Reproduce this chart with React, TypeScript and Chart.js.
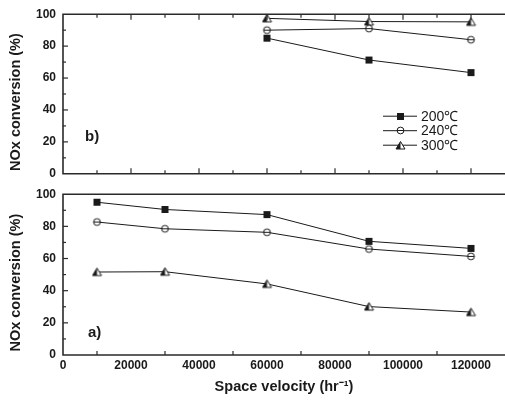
import React, { useEffect, useRef } from 'react';
import { Chart, registerables } from 'chart.js';

Chart.register(...registerables);

// ---- data ----
const seriesLabels = ['200℃', '240℃', '300℃'];
const xTop = [60000, 90000, 120000];
const top200 = [85, 71.3, 63.4];
const top240 = [90, 91, 84];
const top300 = [97.4, 95.4, 95.2];
const xBottom = [10000, 30000, 60000, 90000, 120000];
const bot200 = [95, 90.5, 87.3, 70.7, 66.3];
const bot240 = [82.7, 78.5, 76.3, 65.9, 61.3];
const bot300 = [51.6, 51.8, 44.2, 30.1, 26.7];
const yTickValues = [0, 20, 40, 60, 80, 100];
const xTickValues = [0, 20000, 40000, 60000, 80000, 100000, 120000];
const yMin = 0;
const yMax = 100;
const xMin = 0;
const xMax = 130000;
const yTitle = 'NOx conversion (%)';
const xTitle = 'Space velocity (hr⁻¹)';

const FONT = '"Liberation Sans", Arial, sans-serif';
const INK = '#1a1a1a';

type Kind = 'square' | 'circle' | 'triangle';

function makeMarker(kind: Kind): HTMLCanvasElement {
  const c = document.createElement('canvas');
  const s = 11;
  c.width = s;
  c.height = s;
  const g = c.getContext('2d')!;
  const m = s / 2;
  g.strokeStyle = INK;
  g.fillStyle = INK;
  g.lineWidth = 1;
  if (kind === 'square') {
    g.fillRect(m - 3.5, m - 3.5, 7, 7);
  } else if (kind === 'circle') {
    g.beginPath();
    g.arc(m, m, 3.4, 0, Math.PI * 2);
    g.fillStyle = '#fff';
    g.fill();
    g.stroke();
    g.beginPath();
    g.moveTo(m - 3.4, m);
    g.lineTo(m + 3.4, m);
    g.stroke();
  } else {
    g.beginPath();
    g.moveTo(m, m - 4);
    g.lineTo(m - 4.5, m + 3.5);
    g.lineTo(m + 4.5, m + 3.5);
    g.closePath();
    g.fillStyle = '#fff';
    g.fill();
    g.beginPath();
    g.moveTo(m, m - 4);
    g.lineTo(m - 4.5, m + 3.5);
    g.lineTo(m, m + 3.5);
    g.closePath();
    g.fillStyle = INK;
    g.fill();
    g.beginPath();
    g.moveTo(m, m - 4);
    g.lineTo(m - 4.5, m + 3.5);
    g.lineTo(m + 4.5, m + 3.5);
    g.closePath();
    g.stroke();
  }
  return c;
}

function framePlugin(opts: { topTicks: boolean; bottomMajor: boolean; label: string; labelAtTop: boolean; legend: HTMLCanvasElement[] | null }) {
  return {
    id: 'frame',
    afterDraw(chart: any) {
      const { ctx, chartArea: a, scales } = chart;
      const xs = scales.x;
      const ys = scales.y;
      ctx.save();
      const seg = (x1: number, y1: number, x2: number, y2: number) => {
        ctx.beginPath();
        ctx.moveTo(x1, y1);
        ctx.lineTo(x2, y2);
        ctx.stroke();
      };
      ctx.strokeStyle = '#2a2a2a';
      ctx.lineWidth = 1.6;
      ctx.beginPath();
      ctx.moveTo(a.right + 2, a.top);
      ctx.lineTo(a.left, a.top);
      ctx.lineTo(a.left, a.bottom);
      ctx.lineTo(a.right + 2, a.bottom);
      ctx.stroke();
      ctx.lineWidth = 1.2;
      for (let v = yMin + 10; v < yMax; v += 10) {
        const y = ys.getPixelForValue(v);
        const len = v % 20 === 0 ? 5 : 3;
        seg(a.left, y, a.left + len, y);
      }
      for (let v = 10000; v <= 120000; v += 10000) {
        const x = xs.getPixelForValue(v);
        const major = v % 20000 === 0;
        const len = major ? 5.5 : 3.5;
        if (opts.topTicks) seg(x, a.top, x, a.top + len);
        if (opts.bottomMajor || !major) seg(x, a.bottom, x, a.bottom - (opts.bottomMajor ? len : 4));
      }
      // panel label
      ctx.fillStyle = INK;
      ctx.font = `bold 15px ${FONT}`;
      ctx.textBaseline = 'middle';
      ctx.textAlign = 'left';
      if (opts.labelAtTop) ctx.fillText(opts.label, a.left + 22, a.top + 123);
      else ctx.fillText(opts.label, a.left + 25, a.bottom - 22);
      // legend
      if (opts.legend) {
        const x0 = a.left + 320;
        ctx.font = `14px ${FONT}`;
        ctx.lineWidth = 1;
        ctx.strokeStyle = INK;
        seriesLabels.forEach((lab, i) => {
          const y = a.top + 102 + i * 14.5;
          seg(x0, y, x0 + 34, y);
          const img = opts.legend![i];
          ctx.drawImage(img, Math.round(x0 + 17 - img.width / 2), Math.round(y - img.height / 2));
          ctx.fillText(lab, x0 + 38, y + 0.5);
        });
      }
      ctx.restore();
    },
  };
}

function makeDatasets(xs: number[], ys: number[][], markers: HTMLCanvasElement[]) {
  return ys.map((vals, i) => ({
    label: seriesLabels[i],
    data: vals.map((y, j) => ({ x: xs[j], y })),
    borderColor: INK,
    backgroundColor: INK,
    borderWidth: 1,
    pointStyle: markers[i] as any,
    pointRadius: 5,
    tension: 0,
    clip: false as any,
  }));
}

function yScale(titlePad: number) {
  return {
    type: 'linear' as const,
    min: yMin,
    max: yMax,
    afterBuildTicks: (axis: any) => {
      axis.ticks = yTickValues.map((v) => ({ value: v }));
    },
    afterFit: (axis: any) => {
      axis.width = 63;
    },
    ticks: {
      padding: 7,
      color: INK,
      callback: (v: any) => String(v),
      font: { family: FONT, size: 12, weight: 'bold' as const },
    },
    grid: { display: false, drawTicks: false },
    border: { display: false },
    title: {
      display: true,
      text: yTitle + '\u00a0\u00a0\u00a0\u00a0',
      color: INK,
      padding: { top: titlePad, bottom: 0 },
      font: { family: FONT, size: 14.5, weight: 'bold' as const },
    },
  };
}

export default function App() {
  const topRef = useRef<HTMLCanvasElement>(null);
  const botRef = useRef<HTMLCanvasElement>(null);

  useEffect(() => {
    const markers = [makeMarker('square'), makeMarker('circle'), makeMarker('triangle')];
    const top = new Chart(topRef.current!, {
      type: 'line',
      data: { datasets: makeDatasets(xTop, [top200, top240, top300], markers) as any },
      options: {
        responsive: false,
        animation: false,
        layout: { autoPadding: false, padding: { top: 14, right: 0, bottom: 8, left: 0 } },
        plugins: { legend: { display: false }, tooltip: { enabled: false } },
        scales: {
          x: { type: 'linear', min: xMin, max: xMax, display: false },
          y: yScale(7) as any,
        },
      },
      plugins: [framePlugin({ topTicks: true, bottomMajor: true, label: 'b)', labelAtTop: true, legend: markers })],
    });
    const bot = new Chart(botRef.current!, {
      type: 'line',
      data: { datasets: makeDatasets(xBottom, [bot200, bot240, bot300], markers) as any },
      options: {
        responsive: false,
        animation: false,
        layout: { autoPadding: false, padding: { top: 9, right: 0, bottom: 0, left: 0 } },
        plugins: { legend: { display: false }, tooltip: { enabled: false } },
        scales: {
          x: {
            type: 'linear',
            min: xMin,
            max: xMax,
            afterBuildTicks: (axis: any) => {
              axis.ticks = xTickValues.map((v) => ({ value: v }));
            },
            afterFit: (axis: any) => {
              axis.height = 46;
            },
            ticks: {
              padding: 3,
              maxRotation: 0,
              autoSkip: false,
              color: INK,
              callback: (v: any) => String(v),
              font: { family: FONT, size: 12, weight: 'bold' },
            },
            grid: { display: false, drawTicks: false },
            border: { display: false },
            title: {
              display: true,
              text: xTitle,
              color: INK,
              padding: { top: 0, bottom: 5 },
              font: { family: FONT, size: 14.5, weight: 'bold' },
            },
          } as any,
          y: yScale(7) as any,
        },
      },
      plugins: [framePlugin({ topTicks: false, bottomMajor: false, label: 'a)', labelAtTop: false, legend: null })],
    });
    return () => {
      top.destroy();
      bot.destroy();
    };
  }, []);

  return (
    <div style={{ position: 'fixed', left: 0, top: 0, width: 505, height: 401, background: '#fff', overflow: 'hidden' }}>
      <canvas ref={topRef} width={505} height={188} style={{ position: 'absolute', left: 0, top: 0, display: 'block' }} />
      <canvas ref={botRef} width={505} height={221} style={{ position: 'absolute', left: 0, top: 180, display: 'block' }} />
    </div>
  );
}
